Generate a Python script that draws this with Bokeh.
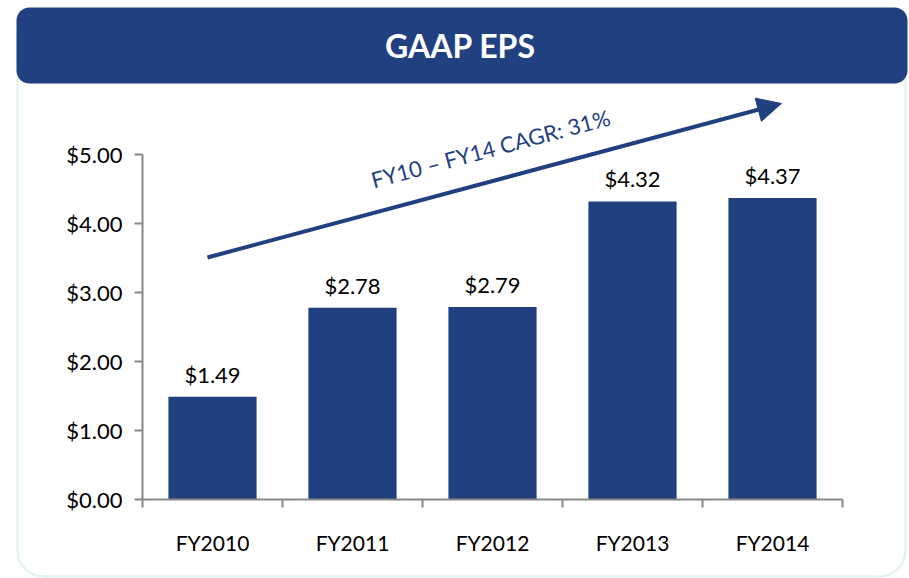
from bokeh.plotting import figure
from bokeh.models import (ColumnDataSource, Range1d, FixedTicker, NumeralTickFormatter,
                          LabelSet, Label, Arrow, NormalHead, BoxAnnotation)
from bokeh.core.properties import value
from bokeh.embed import file_html
from bokeh.resources import INLINE

# ---- data ----
categories = ["FY2010", "FY2011", "FY2012", "FY2013", "FY2014"]
eps = [1.49, 2.78, 2.79, 4.32, 4.37]
y_ticks = [0, 1, 2, 3, 4, 5]
title_text = "GAAP EPS"
cagr_text = "FY10 \u2013 FY14 CAGR: 31%"

NAVY = "#21407F"
GRAY = "#888888"
TEAL = "#A6D6DC"
FONT = "Lato"

W, H = 909, 578
xs = list(range(1, len(categories) + 1))
src = ColumnDataSource(dict(x=xs, top=eps, lab=[f"${v:.2f}" for v in eps]))

# frame covers the whole canvas; ranges chosen so the category band starts at px 142
PX_X, PX_Y = 140.0, 69.0          # pixels per category / per dollar
X0_PX, Y0_PX = 142.0, 499.0       # pixel position of the x-axis start / the $0 line
xr = Range1d(0.5 - X0_PX / PX_X, 0.5 + (W - X0_PX) / PX_X)
yr = Range1d(-(H - Y0_PX) / PX_Y, Y0_PX / PX_Y)

p = figure(width=W, height=H, output_backend="svg", toolbar_location=None,
           x_range=xr, y_range=yr,
           min_border_left=0, min_border_right=0, min_border_top=0, min_border_bottom=0)
p.outline_line_color = None
p.background_fill_color = "white"
p.border_fill_color = "white"
p.xgrid.visible = False
p.ygrid.visible = False

# outer rounded box
p.add_layout(BoxAnnotation(left=17, right=905, top=10, bottom=576,
                           left_units="canvas", right_units="canvas",
                           top_units="canvas", bottom_units="canvas",
                           fill_color=None, line_color=TEAL, line_width=2.5,
                           border_radius=26, level="underlay"))
# header band
p.add_layout(BoxAnnotation(left=16, right=907, top=7, bottom=83,
                           left_units="canvas", right_units="canvas",
                           top_units="canvas", bottom_units="canvas",
                           fill_color=NAVY, fill_alpha=1, line_color=None,
                           border_radius=13, level="underlay"))
p.add_layout(Label(x=460, y=45, x_units="canvas", y_units="canvas", text=title_text,
                   text_align="center", text_baseline="middle", text_color="white",
                   text_font=FONT, text_font_style="bold", text_font_size="32px"))

p.vbar(x="x", top="top", width=0.63, source=src, fill_color=NAVY, line_color=None)

p.add_layout(LabelSet(x="x", y="top", text="lab", source=src, y_offset=9,
                      text_align="center", text_baseline="bottom",
                      text_font=value(FONT), text_font_size=value("22px"), text_color="black"))

# axes
ya = p.yaxis[0]
ya.fixed_location = 0.5
ya.bounds = (0, 5)
ya.ticker = FixedTicker(ticks=y_ticks)
ya.formatter = NumeralTickFormatter(format="$0.00")
ya.axis_line_color = GRAY
ya.axis_line_width = 2
ya.major_tick_line_color = GRAY
ya.major_tick_line_width = 2
ya.major_tick_out = 8
ya.major_tick_in = 0
ya.minor_tick_line_color = None
ya.major_label_standoff = 12
ya.major_label_text_font = FONT
ya.major_label_text_font_size = "22px"
ya.major_label_text_color = "black"

xa = p.xaxis[0]
xa.fixed_location = 0
xa.bounds = (0.5, len(categories) + 0.5)
xa.ticker = FixedTicker(ticks=xs, minor_ticks=[v - 0.5 for v in xs] + [xs[-1] + 0.5])
xa.major_label_overrides = {v: c for v, c in zip(xs, categories)}
xa.axis_line_color = GRAY
xa.axis_line_width = 2
xa.major_tick_line_color = None
xa.minor_tick_line_color = GRAY
xa.minor_tick_line_width = 2
xa.minor_tick_out = 8
xa.minor_tick_in = 0
xa.major_label_standoff = 22
xa.major_label_text_font = FONT
xa.major_label_text_font_size = "21px"
xa.major_label_text_color = "black"

# CAGR arrow and text
p.add_layout(Arrow(x_start=0.964, y_start=3.507, x_end=5.064, y_end=5.739,
                   line_color=NAVY, line_width=4,
                   end=NormalHead(size=24, fill_color=NAVY, line_color=NAVY)))
p.add_layout(Label(x=2.986, y=5.087, text=cagr_text, angle=15.0, angle_units="deg",
                   text_align="center", text_baseline="middle", text_color=NAVY,
                   text_font=FONT, text_font_size="22px"))

open("out.html", "w").write(file_html(p, INLINE))
